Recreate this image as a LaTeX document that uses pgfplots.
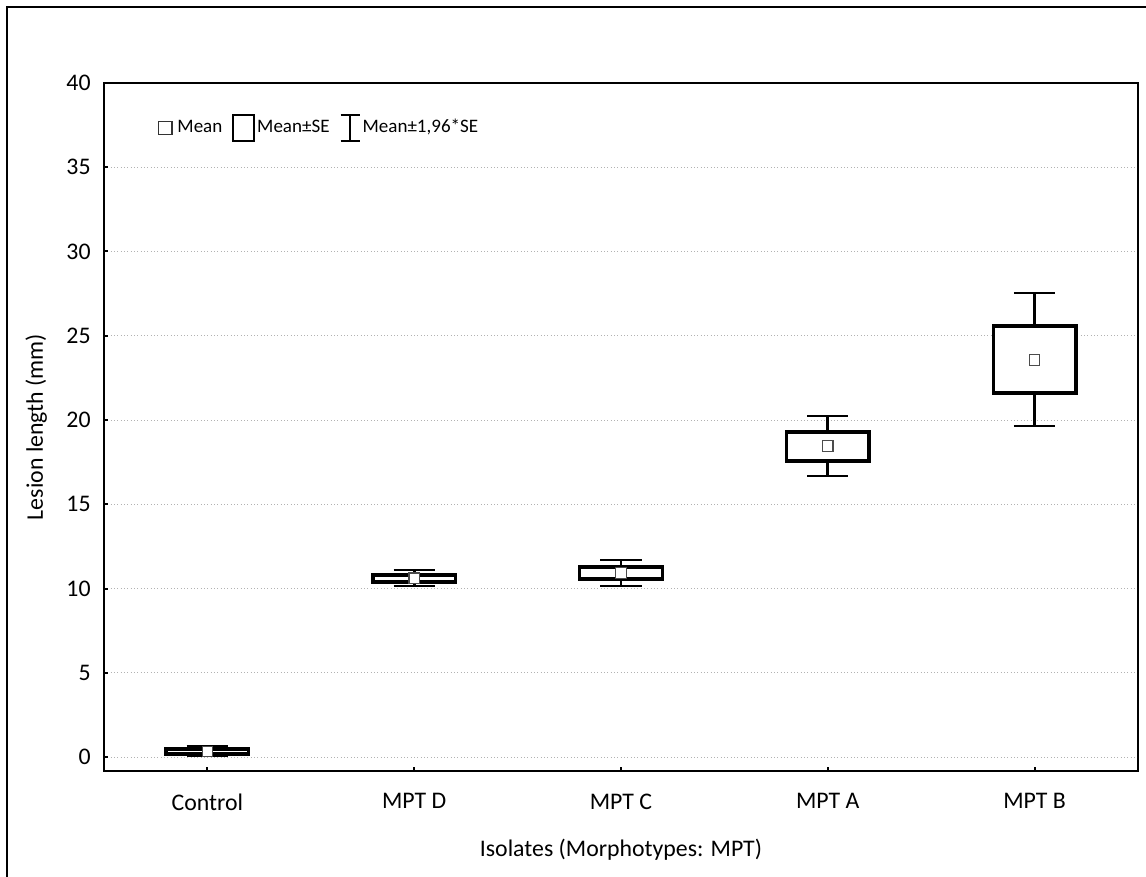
\documentclass[border=0pt]{standalone}
\usepackage{fontspec}
\setmainfont{Carlito}
\usepackage{pgfplots}
\usepackage{pgfplotstable}
\pgfplotsset{compat=1.18}
\usepgfplotslibrary{statistics}

\pgfplotstableread{
pos lw lq mean uq uw
0 0.06 0.18 0.33 0.47 0.65
1 10.15 10.39 10.60 10.80 11.10
2 10.15 10.56 10.92 11.28 11.69
3 16.68 17.57 18.46 19.29 20.24
4 19.64 21.60 23.56 25.58 27.54
}\data

\begin{document}
\begin{tikzpicture}
\useasboundingbox (-43.68pt,-44.52pt) rectangle (437.64pt,323.82pt);
\draw[line width=0.84pt] (-40.74pt,-60pt) -- (-40.74pt,320.88pt) -- (460pt,320.88pt);
\begin{axis}[
  at={(0pt,0pt)}, anchor=south west,
  scale only axis, width=434.28pt, height=288.96pt,
  xmin=-0.5, xmax=4.5, ymin=-0.83, ymax=40,
  ytick={0,5,...,40},
  xtick={0,1,2,3,4},
  xticklabels={Control,MPT D,MPT C,MPT A,MPT B},
  /pgf/number format/assume math mode=true,
  tick label style={font=\fontsize{10}{12}\selectfont},
  yticklabel style={xshift=-2.1pt},
  xticklabel style={yshift=-6pt},
  tick pos=left, tick align=inside, major tick length=1.7pt,
  tick style={black, line width=0.84pt},
  axis line style={black, line width=0.84pt},
  ymajorgrids,
  major grid style={draw=black!30, densely dotted, line width=0.4pt},
  xlabel={Isolates (Morphotypes: MPT)},
  ylabel={Lesion length (mm)},
  label style={font=\fontsize{10}{12}\selectfont},
  xlabel style={at={(axis description cs:0.5,-0.125)}, anchor=base},
  ylabel style={at={(axis description cs:-0.059,0.5)}, anchor=base},
  boxplot/draw direction=y,
  boxplot/box extend=0.4,
  boxplot/whisker extend=0.2,
  boxplot/every box/.style={line width=1.4pt, fill=white},
  boxplot/every whisker/.style={line width=1.1pt},
  boxplot/draw/median/.code={},
  legend columns=3,
  legend cell align=left,
  legend style={draw=none, fill=none, inner sep=0pt,
    at={(axis description cs:0.0485,0.9346)}, anchor=west,
    font=\fontsize{8}{9}\selectfont,
    nodes={inner xsep=0.8pt},
    /tikz/every even column/.append style={column sep=3.4pt}},
]
\addplot[black, solid, forget plot, boxplot prepared={draw position=0,
  lower whisker=0.06, lower quartile=0.18, median=0.33, upper quartile=0.47, upper whisker=0.65}] coordinates {};
\addplot[black, solid, forget plot, boxplot prepared={draw position=1,
  lower whisker=10.15, lower quartile=10.39, median=10.60, upper quartile=10.80, upper whisker=11.10}] coordinates {};
\addplot[black, solid, forget plot, boxplot prepared={draw position=2,
  lower whisker=10.15, lower quartile=10.56, median=10.92, upper quartile=11.28, upper whisker=11.69}] coordinates {};
\addplot[black, solid, forget plot, boxplot prepared={draw position=3,
  lower whisker=16.68, lower quartile=17.57, median=18.46, upper quartile=19.29, upper whisker=20.24}] coordinates {};
\addplot[black, solid, forget plot, boxplot prepared={draw position=4,
  lower whisker=19.64, lower quartile=21.60, median=23.56, upper quartile=25.58, upper whisker=27.54}] coordinates {};
\addplot[only marks, mark=square*, mark size=2.2pt, forget plot,
  mark options={fill=white, draw=black!70, line width=0.55pt, solid}]
  table[x=pos, y=mean]{\data};
\addlegendimage{legend image code/.code={\path[draw=none, fill=none] (0pt,0pt) -- (8.8pt,0pt); \draw[black!80, line width=0.75pt, fill=white] (1.6pt,-2.75pt) rectangle (7.2pt,2.75pt);}}
\addlegendentry{Mean}
\addlegendimage{legend image code/.code={\draw[black, line width=0.84pt] (0pt,-5.65pt) rectangle (8.8pt,5.65pt);}}
\addlegendentry{Mean±SE}
\addlegendimage{legend image code/.code={\path[draw=none, fill=none] (0pt,0pt) -- (8.8pt,0pt); \draw[black, line width=0.84pt] (0.4pt,-5.65pt) -- (8.4pt,-5.65pt) (4.4pt,-5.65pt) -- (4.4pt,5.65pt) (0.4pt,5.65pt) -- (8.4pt,5.65pt);}}
\addlegendentry{Mean±1,96*SE}
\end{axis}
\end{tikzpicture}
\end{document}
